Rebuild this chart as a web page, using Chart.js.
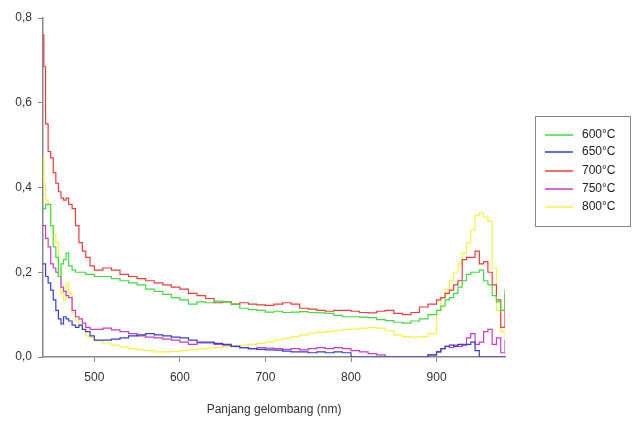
<!DOCTYPE html>
<html>
<head>
<meta charset="utf-8">
<script src="https://cdn.jsdelivr.net/npm/chart.js@4.4.0/dist/chart.umd.min.js"></script>
<style>
  html, body { margin: 0; padding: 0; background: #fff; }
  #wrap { width: 635px; height: 423px; position: relative; }
</style>
</head>
<body>
<div id="wrap"><canvas id="spectrum"></canvas></div>
<script>
// panjang gelombang (nm)
const wl = [440, 441, 443, 446, 449, 452, 455, 458, 461, 464, 467, 470,
  474, 478, 482, 486, 490, 495,
  500, 510, 520, 530, 540, 550, 560, 570, 580, 590,
  600, 610, 620, 630, 640, 650, 660, 670, 680, 690,
  700, 710, 720, 730, 740, 750, 760, 770, 780, 790,
  800, 810, 820, 830, 840, 850, 860, 870, 880, 890,
  900, 905, 910, 915, 920, 925, 930, 935, 940, 945, 950, 955, 960, 965, 970, 975, 980];

const labels = ['600°C', '650°C', '700°C', '750°C', '800°C'];

const s600 = [0.35, 0.35, 0.36, 0.36, 0.31, 0.26, 0.235, 0.19, 0.22, 0.23, 0.245, 0.215,
  0.205, 0.2, 0.2, 0.2, 0.195, 0.195,
  0.19, 0.19, 0.185, 0.18, 0.175, 0.17, 0.16, 0.155, 0.148, 0.14,
  0.135, 0.125, 0.13, 0.128, 0.132, 0.13, 0.125, 0.115, 0.112, 0.11,
  0.106, 0.108, 0.105, 0.106, 0.107, 0.105, 0.104, 0.103, 0.098, 0.095,
  0.095, 0.094, 0.093, 0.088, 0.086, 0.082, 0.08, 0.085, 0.09, 0.1,
  0.11, 0.12, 0.135, 0.14, 0.15, 0.165, 0.18, 0.195, 0.2, 0.2, 0.205, 0.18, 0.17, 0.145, 0.13, 0.11, 0.16];

const s650 = [0.22, 0.22, 0.19, 0.175, 0.158, 0.135, 0.11, 0.09, 0.078, 0.095, 0.09, 0.085,
  0.075, 0.07, 0.075, 0.065, 0.06, 0.05,
  0.04, 0.04, 0.042, 0.045, 0.05, 0.052, 0.055, 0.052, 0.05, 0.047,
  0.045, 0.04, 0.035, 0.035, 0.032, 0.03, 0.025, 0.022, 0.02, 0.018,
  0.017, 0.016, 0.014, 0.012, 0.012, 0.01, 0.012, 0.01, 0.012, 0.01,
  0, 0, 0, 0, 0, 0, 0, 0, 0, 0.005,
  0.012, 0.02, 0.025, 0.028, 0.025, 0.03, 0.028, 0.03, 0.035, 0.015, 0, 0, 0, 0, 0, 0, 0];

const s700 = [0.76, 0.685, 0.55, 0.485, 0.47, 0.435, 0.41, 0.39, 0.375, 0.37, 0.375, 0.36,
  0.35, 0.31, 0.27, 0.25, 0.235, 0.215,
  0.205, 0.21, 0.205, 0.195, 0.19, 0.185, 0.18, 0.175, 0.17, 0.165,
  0.16, 0.15, 0.145, 0.138, 0.128, 0.13, 0.125, 0.128, 0.125, 0.123,
  0.122, 0.125, 0.128, 0.125, 0.115, 0.113, 0.11, 0.108, 0.11, 0.11,
  0.108, 0.105, 0.104, 0.108, 0.11, 0.103, 0.1, 0.105, 0.118, 0.125,
  0.135, 0.14, 0.15, 0.158, 0.17, 0.18, 0.23, 0.235, 0.235, 0.25, 0.22, 0.225, 0.2, 0.17, 0.135, 0.07, 0.15];

const s750 = [0.31, 0.31, 0.28, 0.26, 0.22, 0.21, 0.2, 0.19, 0.165, 0.155, 0.145, 0.14,
  0.11, 0.095, 0.09, 0.08, 0.07, 0.065,
  0.065, 0.068, 0.064, 0.06, 0.055, 0.05, 0.047, 0.045, 0.042, 0.04,
  0.035, 0.03, 0.033, 0.033, 0.03, 0.028, 0.025, 0.022, 0.02, 0.022,
  0.021, 0.02, 0.018, 0.02, 0.017, 0.02, 0.022, 0.02, 0.022, 0.02,
  0.015, 0.012, 0.008, 0.005, 0, 0, 0, 0, 0, 0.005,
  0.012, 0.02, 0.025, 0.022, 0.028, 0.025, 0.03, 0.045, 0.055, 0.03, 0.035, 0.06, 0.065, 0.03, 0.045, 0.01, 0.04];

const s800 = [0.47, 0.41, 0.37, 0.36, 0.31, 0.29, 0.27, 0.21, 0.15, 0.135, 0.175, 0.15,
  0.104, 0.087, 0.075, 0.064, 0.05, 0.045,
  0.038, 0.033, 0.028, 0.024, 0.02, 0.017, 0.015, 0.012, 0.012, 0.013,
  0.015, 0.017, 0.019, 0.021, 0.022, 0.024, 0.026, 0.028, 0.03, 0.032,
  0.035, 0.04, 0.044, 0.048, 0.052, 0.056, 0.058, 0.06, 0.062, 0.065,
  0.066, 0.068, 0.07, 0.068, 0.062, 0.052, 0.048, 0.047, 0.048, 0.055,
  0.11, 0.14, 0.16, 0.18, 0.2, 0.22, 0.245, 0.27, 0.3, 0.335, 0.34, 0.33, 0.32, 0.21, 0.11, 0.06, 0.045];

const xTicks = [500, 600, 700, 800, 900];
const yTicks = [0, 0.2, 0.4, 0.6, 0.8];

const colors = ['#3fdc3f', '#3340d0', '#ec3c3c', '#c83cc8', '#f4f43c'];
const series = [s600, s650, s700, s750, s800];

const fontFam = '"Liberation Sans", Arial, sans-serif';

function toPoints(arr) {
  return arr.map((v, i) => ({x: wl[i], y: v}));
}

// legend box on the right, like the original picture
const boxLegend = {
  id: 'boxLegend',
  afterDraw(chart) {
    const ctx = chart.ctx;
    ctx.save();
    ctx.strokeStyle = '#888';
    ctx.lineWidth = 1;
    ctx.strokeRect(535.5, 116.5, 95, 110);
    const rows = [135, 152, 171, 189, 207];
    ctx.font = '12px ' + fontFam;
    ctx.textBaseline = 'middle';
    labels.forEach((txt, i) => {
      ctx.strokeStyle = colors[i];
      ctx.lineWidth = 1.5;
      ctx.beginPath();
      ctx.moveTo(545, rows[i]);
      ctx.lineTo(573, rows[i]);
      ctx.stroke();
      ctx.fillStyle = '#222';
      ctx.fillText(txt, 582, rows[i]);
    });
    ctx.restore();
  }
};

const data1 = {
  datasets: series.map((s, i) => ({
    label: labels[i],
    data: toPoints(s),
    borderColor: colors[i],
    borderWidth: 1.2,
    pointRadius: 0,
    stepped: true,
    fill: false
  }))
};

const config = {
  type: 'line',
  data: data1,
  options: {
    responsive: true,
    maintainAspectRatio: false,
    animation: false,
    layout: {
      padding: {top: 18, right: 130, bottom: 0, left: 0}
    },
    plugins: {
      legend: { display: false },
      tooltip: { enabled: false }
    },
    scales: {
      x: {
        type: 'linear',
        min: 440,
        max: 980,
        afterBuildTicks: (s) => { s.ticks = xTicks.map(v => ({value: v})); },
        afterFit: (s) => { s.height = 66; },
        grid: { display: true, drawOnChartArea: false, drawTicks: true, tickLength: 5, color: '#888' },
        border: { color: '#888', width: 1.5 },
        ticks: {
          padding: 8,
          color: '#333',
          font: { family: fontFam, size: 12 }
        },
        title: {
          display: true,
          text: 'Panjang gelombang (nm)',
          color: '#333',
          align: 'center',
          padding: { top: 0, bottom: 6 },
          font: { family: fontFam, size: 12 }
        }
      },
      y: {
        min: 0,
        max: 0.8,
        afterBuildTicks: (s) => { s.ticks = yTicks.map(v => ({value: v})); },
        afterFit: (s) => { s.width = 43; },
        grid: { display: true, drawOnChartArea: false, drawTicks: true, tickLength: 5, color: '#888' },
        border: { color: '#888', width: 1.5 },
        ticks: {
          padding: 6,
          color: '#333',
          font: { family: fontFam, size: 12 },
          callback: (v) => v.toFixed(1).replace('.', ',')
        }
      }
    }
  },
  plugins: [boxLegend]
};

const myChart = new Chart(document.getElementById('spectrum'), config);
</script>
</body>
</html>
